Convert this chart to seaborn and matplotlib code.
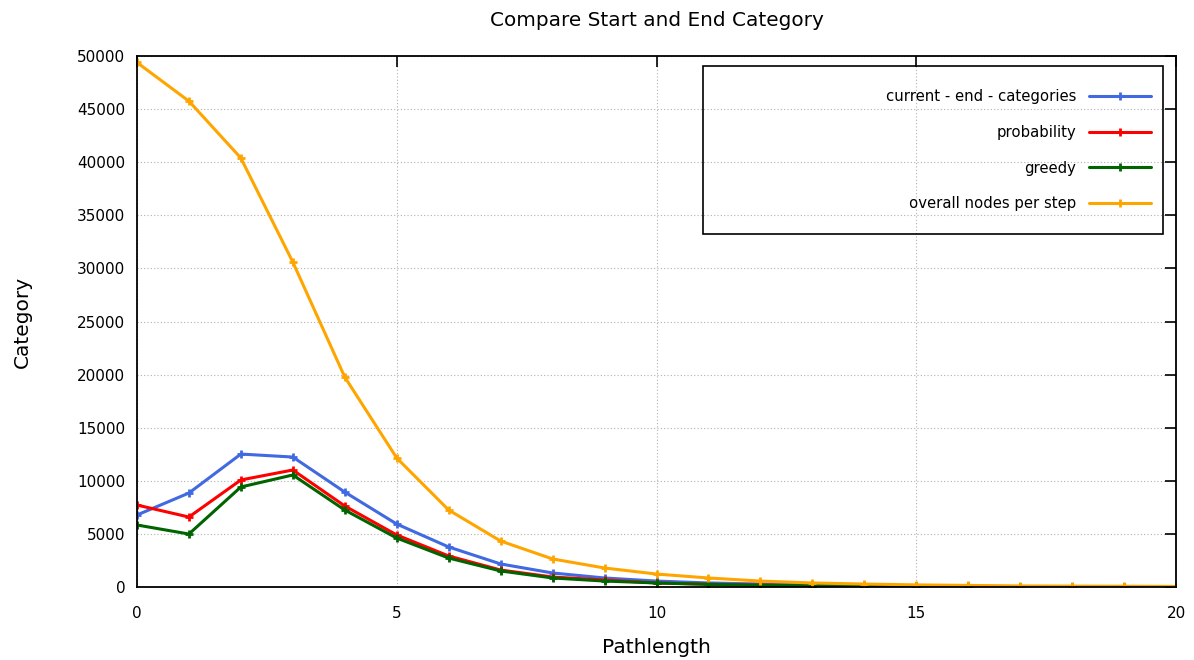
import pandas as pd
import matplotlib.pyplot as plt
import seaborn as sns
from matplotlib.patches import Rectangle

# Data
pathlength = list(range(21))
current_end = [6780, 8850, 12520, 12240, 8940, 5930, 3770, 2170, 1320, 850, 560,
               380, 280, 190, 130, 90, 60, 40, 30, 20, 10]
probability = [7720, 6590, 10080, 11020, 7630, 4900, 2920, 1600, 940, 660, 380,
               260, 180, 120, 80, 50, 40, 30, 20, 10, 10]
greedy = [5840, 4990, 9420, 10550, 7250, 4610, 2730, 1510, 850, 560, 380,
          250, 170, 110, 70, 50, 30, 20, 10, 10, 10]
overall = [49400, 45760, 40400, 30600, 19770, 12150, 7250, 4330, 2640, 1790, 1220,
           850, 560, 380, 280, 200, 150, 100, 80, 70, 50]

series = {
    "current - end - categories": (current_end, "#4169e1"),
    "probability": (probability, "#ff0000"),
    "greedy": (greedy, "#006400"),
    "overall nodes per step": (overall, "#ffa500"),
}

sns.set_style("white")
plt.rcParams["font.family"] = ["DejaVu Sans"]
plt.rcParams["text.color"] = "black"

fig = plt.figure(figsize=(11.94, 6.6), dpi=100)
ax = fig.add_axes([0.1147, 0.1106, 0.8703, 0.8044])

for name, (vals, color) in series.items():
    df = pd.DataFrame({"Pathlength": pathlength, "Category": vals})
    sns.lineplot(data=df, x="Pathlength", y="Category", ax=ax, color=color,
                 linewidth=2.2, marker="+", markersize=6, markeredgewidth=2,
                 markeredgecolor=color, label=name)

ax.set_xlim(0, 20)
ax.set_ylim(0, 50000)
ax.set_xticks([0, 5, 10, 15, 20])
ax.set_yticks(range(0, 50001, 5000))
ax.grid(True, color="#b0b0b0", linestyle=(0, (1, 2)), linewidth=0.8)
ax.tick_params(direction="in", length=8, width=1.2, top=True, right=True,
               labelsize=11, colors="black")
ax.tick_params(axis="y", pad=8.5)
ax.tick_params(axis="x", pad=14)
for s in ax.spines.values():
    s.set_color("black")
    s.set_linewidth(1.3)

ax.set_title("Compare Start and End Category", fontsize=14.4, pad=21.7,
             color="black")
ax.set_xlabel("Pathlength", fontsize=14.5, labelpad=12, color="black")
ax.set_ylabel("Category", fontsize=14.5, color="black")
ax.yaxis.set_label_coords(-0.1011, 0.5)

# legend box drawn like gnuplot's key
ax.add_patch(Rectangle((0.5448, 0.6648), 0.4427, 0.3164, transform=ax.transAxes,
                       fill=False, edgecolor="black", linewidth=1.2, zorder=5))
ax.legend(loc="upper right", bbox_to_anchor=(0.9759, 0.938), frameon=False,
          markerfirst=False, fontsize=10.7, labelspacing=1.4,
          handlelength=4.2, handletextpad=0.85, borderaxespad=0, borderpad=0,
          labelcolor="black")

plt.savefig("out.png", dpi=100)
